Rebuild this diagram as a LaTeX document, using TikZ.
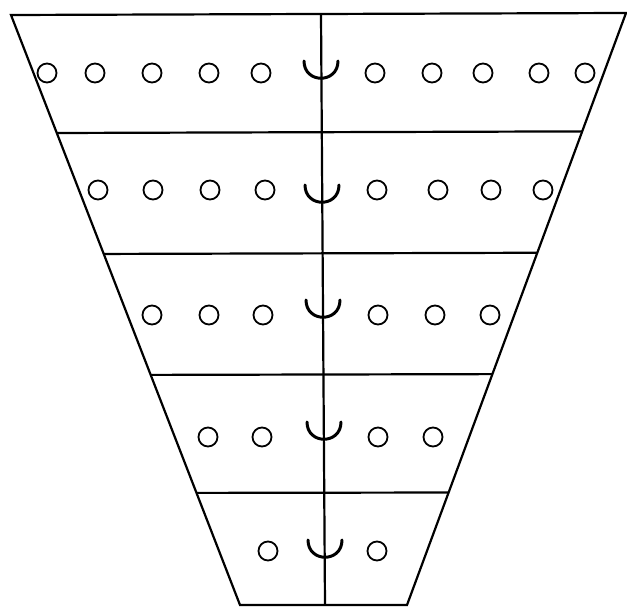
\documentclass[tikz,border=0pt]{standalone}
\usetikzlibrary{calc}

\begin{document}
\begin{tikzpicture}[
  x=1pt, y=-1pt,
  edge/.style={line width=2.2pt},
  hole/.style={draw, circle, line width=1.8pt, minimum size=19pt, inner sep=0pt},
  cup/.style={line width=3pt, line cap=round}
]
\useasboundingbox (0,0) rectangle (627,609);
% corners of the outline
\coordinate (tl) at (11,15);
\coordinate (tr) at (626,13);
\coordinate (bl) at (240,605);
\coordinate (br) at (407,605);
\coordinate (ctop) at (321,14);
\coordinate (cbot) at (325,605);

\draw[edge] (tl) -- (tr) -- (br) -- (bl) -- cycle;
\draw[edge] (ctop) -- (cbot);
\foreach \t/\n in {0.2/1, 0.405/2, 0.61/3, 0.81/4}
  \draw[edge] ($(tl)!\t!(bl)$) coordinate (l\n) -- ($(tr)!\t!(br)$) coordinate (r\n);

% holes, row by row
\foreach \x in {47, 95, 152, 209, 261, 375, 432, 483, 539, 585}
  \node[hole] at (\x,73) {};
\foreach \x in {98, 153, 210, 265, 377, 438, 491, 543}
  \node[hole] at (\x,190) {};
\foreach \x in {152, 209, 263, 378, 435, 490}
  \node[hole] at (\x,315) {};
\foreach \x in {208, 262, 378, 433}
  \node[hole] at (\x,437) {};
\foreach \x in {268, 377}
  \node[hole] at (\x,551) {};

% cups on the centre line
\foreach \c/\y in {321/61, 322/185, 323/300, 324/422, 325/540}
  \draw[cup] (\c-17,\y) .. controls (\c-17,\y+23) and (\c+17,\y+23) .. (\c+17,\y);
\end{tikzpicture}
\end{document}
